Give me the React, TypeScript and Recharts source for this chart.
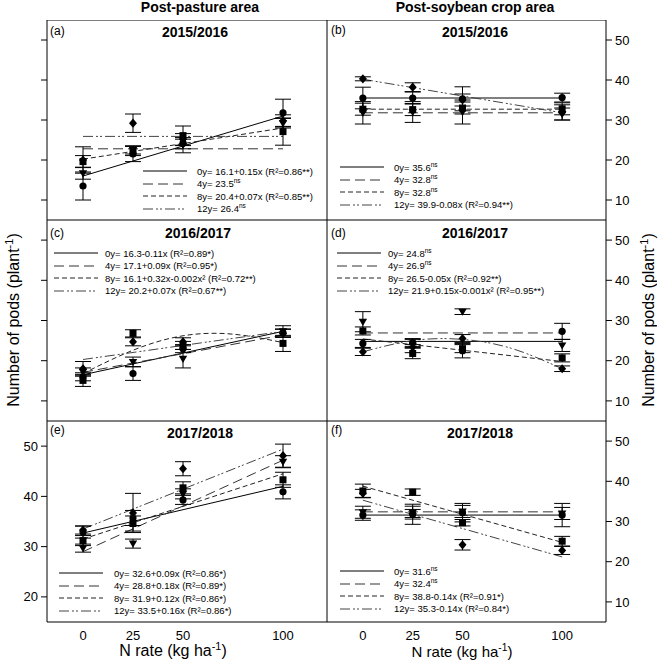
import React from "react";
import { ComposedChart, Line, Scatter, ErrorBar, XAxis, YAxis, ReferenceArea } from "recharts";

const N_RATES = [0, 25, 50, 100];
const LINE_X = [0, 100];
const CURVE_X = [0, 25, 50, 75, 100];
const X_DOMAIN = [-18, 122];
const Y_TICKS = [10, 20, 30, 40, 50];
const Y_TICKS_E = [20, 30, 40, 50];

// rows: 0y, 4y, 8y, 12y ; columns follow N_RATES
// (a) post-pasture 2015/2016
const A_MEAN = [
  [13.5, 21.5, 24.2, 31.8],
  [16.7, 22.5, 24.6, 29.2],
  [19.6, 22.3, 26.1, 27.1],
  [20.0, 29.2, 24.0, 29.8],
];
const A_SE = [
  [3.5, 1.9, 2.4, 3.4],
  [1.5, 1.0, 1.0, 1.2],
  [1.5, 1.2, 2.4, 3.4],
  [3.3, 2.3, 1.2, 1.5],
];
const A_FIT = [[16.0, 31.0], [22.8, 22.8], [20.2, 28.0], [25.9, 25.9]];
const A_LEGEND = [
  ["0y= 16.1+0.15x (R²=0.86**)", ""],
  ["4y= 23.5", "ns"],
  ["8y= 20.4+0.07x (R²=0.85**)", ""],
  ["12y= 26.4", "ns"],
];

// (b) post-soybean 2015/2016
const B_MEAN = [
  [35.5, 35.5, 35.3, 35.6],
  [31.8, 32.0, 32.0, 31.5],
  [32.7, 32.6, 33.0, 32.8],
  [40.3, 38.2, 35.0, 31.9],
];
const B_SE = [
  [2.7, 1.5, 3.0, 1.1],
  [2.8, 2.6, 3.0, 1.5],
  [1.5, 1.5, 1.5, 1.5],
  [0.5, 1.1, 1.5, 1.9],
];
const B_FIT = [[35.5, 35.5], [31.8, 31.8], [32.7, 32.7], [40.2, 31.8]];
const B_LEGEND = [
  ["0y= 35.6", "ns"],
  ["4y= 32.8", "ns"],
  ["8y= 32.8", "ns"],
  ["12y= 39.9-0.08x (R²=0.94**)", ""],
];

// (c) post-pasture 2016/2017
const C_MEAN = [
  [16.0, 16.8, 23.0, 26.9],
  [17.2, 19.7, 20.5, 27.3],
  [15.1, 26.8, 23.8, 24.3],
  [18.0, 24.7, 24.7, 26.8],
];
const C_SE = [
  [1.0, 1.7, 1.0, 1.0],
  [1.0, 1.2, 2.3, 1.4],
  [1.5, 0.9, 1.0, 2.0],
  [1.8, 1.0, 1.0, 1.0],
];
const C_FIT = [[16.5, 27.3], [17.1, 26.4], [16.8, 22.6, 26.2, 26.6, 24.5], [20.3, 27.3]];
const C_LEGEND = [
  ["0y= 16.3-0.11x (R²=0.89*)", ""],
  ["4y= 17.1+0.09x (R²=0.95*)", ""],
  ["8y= 16.1+0.32x-0.002x² (R²=0.72**)", ""],
  ["12y= 20.2+0.07x (R²=0.67**)", ""],
];

// (d) post-soybean 2016/2017
const D_MEAN = [
  [24.3, 24.5, 22.5, 27.3],
  [29.7, 23.0, 32.2, 23.8],
  [27.4, 21.8, 23.0, 20.7],
  [22.2, 24.3, 25.5, 18.0],
];
const D_SE = [
  [1.0, 1.0, 1.8, 2.0],
  [2.5, 1.0, 0.7, 1.5],
  [1.0, 1.3, 1.0, 1.0],
  [0.9, 1.0, 1.0, 0.7],
];
const D_FIT = [[24.8, 24.8], [26.9, 26.9], [25.4, 19.8], [22.2, 25.0, 25.3, 23.0, 18.0]];
const D_LEGEND = [
  ["0y= 24.8", "ns"],
  ["4y= 26.9", "ns"],
  ["8y= 26.5-0.05x (R²=0.92**)", ""],
  ["12y= 21.9+0.15x-0.001x² (R²=0.95**)", ""],
];

// (e) post-pasture 2017/2018
const E_MEAN = [
  [32.9, 35.7, 39.3, 40.9],
  [29.7, 30.6, 40.5, 46.9],
  [31.2, 34.6, 41.7, 43.3],
  [33.3, 36.7, 45.5, 48.1],
];
const E_SE = [
  [1.2, 1.5, 0.9, 1.4],
  [0.8, 0.9, 1.0, 1.2],
  [1.0, 1.5, 1.2, 1.5],
  [0.8, 3.9, 1.4, 2.3],
];
const E_FIT = [[32.7, 42.0], [29.0, 47.2], [31.5, 44.5], [33.5, 49.4]];
const E_LEGEND = [
  ["0y= 32.6+0.09x (R²=0.86*)", ""],
  ["4y= 28.8+0.18x (R²=0.89*)", ""],
  ["8y= 31.9+0.12x (R²=0.86*)", ""],
  ["12y= 33.5+0.16x (R²=0.86*)", ""],
];

// (f) post-soybean 2017/2018
const F_MEAN = [
  [31.6, 31.8, 32.2, 31.6],
  [32.3, 32.2, 32.5, 32.0],
  [37.6, 37.3, 29.7, 25.1],
  [37.0, 32.0, 24.2, 22.8],
];
const F_SE = [
  [1.3, 2.5, 2.3, 2.9],
  [1.5, 1.6, 1.5, 1.5],
  [1.7, 0.8, 0.8, 1.2],
  [1.0, 1.0, 1.3, 1.0],
];
const F_FIT = [[31.6, 31.6], [32.4, 32.4], [38.8, 24.8], [35.3, 21.2]];
const F_LEGEND = [
  ["0y= 31.6", "ns"],
  ["4y= 32.4", "ns"],
  ["8y= 38.8-0.14x (R²=0.91*)", ""],
  ["12y= 35.3-0.14x (R²=0.84*)", ""],
];

const FONT = "'Liberation Sans', Arial, Helvetica, sans-serif";
const AGE_DASH = ["", "10 5", "5 3", "10 3 2 2 2 3"];
const AGE_COLOR = ["#000", "#333", "#222", "#444"];

const marker = (age: number) => (props: any) => {
  const { cx, cy } = props;
  if (cx == null || cy == null) return <g />;
  if (age === 0) return <circle cx={cx} cy={cy} r={3.6} fill="#000" />;
  if (age === 1)
    return <polygon points={`${cx - 4.2},${cy - 3} ${cx + 4.2},${cy - 3} ${cx},${cy + 4.2}`} fill="#000" />;
  if (age === 2) return <rect x={cx - 3.5} y={cy - 3.5} width={7} height={7} fill="#000" />;
  return <polygon points={`${cx},${cy - 4.6} ${cx + 4},${cy} ${cx},${cy + 4.6} ${cx - 4},${cy}`} fill="#000" />;
};

const Panel = ({ mean, se, fit, left, top, plotW, plotH, side, bottom, yDomain, yTicks, yLabels }: any) => {
  const axisW = 40;
  const xAxisH = bottom ? 30 : 0;
  return (
    <div style={{ position: "absolute", left: side === "left" ? left - axisW : left, top }}>
      <ComposedChart width={plotW + axisW} height={plotH + xAxisH} margin={{ top: 0, right: 0, bottom: 0, left: 0 }}>
        <XAxis
          type="number"
          dataKey="x"
          domain={X_DOMAIN}
          ticks={N_RATES}
          allowDataOverflow
          hide={!bottom}
          height={xAxisH}
          axisLine={false}
          tickLine={false}
          tickSize={6}
          tickMargin={3}
          tick={{ fontSize: 13, fill: "#000", fontFamily: FONT }}
        />
        <YAxis
          type="number"
          dataKey="y"
          orientation={side}
          width={axisW}
          domain={yDomain}
          ticks={yTicks}
          allowDataOverflow
          axisLine={false}
          tickLine={{ stroke: "#000" }}
          tickSize={6}
          tickMargin={3}
          tick={yLabels ? { fontSize: 13, fill: "#000", fontFamily: FONT } : () => <g />}
        />
        <ReferenceArea
          x1={X_DOMAIN[0]}
          x2={X_DOMAIN[1]}
          y1={yDomain[0]}
          y2={yDomain[1]}
          fill="none"
          fillOpacity={0}
          stroke="#000"
          strokeWidth={1}
          ifOverflow="visible"
        />
        {fit.map((vals: number[], i: number) => {
          const xs = vals.length > 2 ? CURVE_X : LINE_X;
          return (
            <Line
              key={`fit-${i}`}
              data={vals.map((v, k) => ({ x: xs[k], y: v }))}
              dataKey="y"
              type={vals.length > 2 ? "natural" : "linear"}
              stroke={AGE_COLOR[i]}
              strokeWidth={1}
              strokeDasharray={AGE_DASH[i]}
              dot={false}
              activeDot={false}
              isAnimationActive={false}
            />
          );
        })}
        {mean.map((vals: number[], i: number) => (
          <Scatter
            key={`pts-${i}`}
            data={vals.map((v, k) => ({ x: N_RATES[k], y: v, e: se[i][k] }))}
            dataKey="y"
            shape={marker(i)}
            isAnimationActive={false}
          >
            <ErrorBar dataKey="e" direction="y" width={8} stroke="#000" strokeWidth={1} />
          </Scatter>
        ))}
      </ComposedChart>
    </div>
  );
};

const LegendBox = ({ left, top, labels, gap }: any) => (
  <div style={{ position: "absolute", left, top, fontSize: 9.5, fontFamily: FONT, whiteSpace: "nowrap" }}>
    {labels.map(([txt, sup]: string[], i: number) => (
      <div key={i} style={{ display: "flex", alignItems: "center", height: 12.5 }}>
        <svg width={44} height={4} style={{ marginRight: gap, flex: "none" }}>
          <line x1={0} y1={2} x2={44} y2={2} stroke={AGE_COLOR[i]} strokeWidth={1} strokeDasharray={AGE_DASH[i]} />
        </svg>
        <span>
          {txt}
          {sup && <span style={{ fontSize: 6.5, verticalAlign: "super", lineHeight: 0 }}>{sup}</span>}
        </span>
      </div>
    ))}
  </div>
);

const Txt = ({ x, y, size, bold, children, anchor }: any) => (
  <div
    style={{
      position: "absolute",
      left: x,
      top: y,
      transform: anchor === "start" ? "translate(0,-50%)" : "translate(-50%,-50%)",
      fontSize: size,
      fontWeight: bold ? "bold" : "normal",
      fontFamily: FONT,
      whiteSpace: "nowrap",
      lineHeight: 1,
    }}
  >
    {children}
  </div>
);

const YLabel = ({ x, y }: any) => (
  <div
    style={{
      position: "absolute",
      left: x,
      top: y,
      transform: "translate(-50%,-50%) rotate(-90deg)",
      fontSize: 16,
      fontFamily: FONT,
      whiteSpace: "nowrap",
      lineHeight: 1,
    }}
  >
    Number of pods (plant<sup style={{ fontSize: 11, lineHeight: 0 }}>-1</sup>)
  </div>
);

const XLabel = ({ x, y, size }: any) => (
  <Txt x={x} y={y} size={size}>
    N rate (kg ha<sup style={{ fontSize: size * 0.68, lineHeight: 0 }}>-1</sup>)
  </Txt>
);

export default function App() {
  const rows = [20, 220, 421];
  return (
    <div style={{ position: "absolute", left: 0, top: 0, width: 658, height: 662, background: "#fff", fontFamily: FONT }}>
      <Panel mean={A_MEAN} se={A_SE} fit={A_FIT} left={47} top={rows[0]} plotW={280} plotH={200} side="left" bottom={false} yDomain={[5, 55]} yTicks={Y_TICKS} yLabels={false} />
      <Panel mean={B_MEAN} se={B_SE} fit={B_FIT} left={327} top={rows[0]} plotW={279} plotH={200} side="right" bottom={false} yDomain={[5, 55]} yTicks={Y_TICKS} yLabels={true} />
      <Panel mean={C_MEAN} se={C_SE} fit={C_FIT} left={47} top={rows[1]} plotW={280} plotH={201} side="left" bottom={false} yDomain={[5, 55]} yTicks={Y_TICKS} yLabels={false} />
      <Panel mean={D_MEAN} se={D_SE} fit={D_FIT} left={327} top={rows[1]} plotW={279} plotH={201} side="right" bottom={false} yDomain={[5, 55]} yTicks={Y_TICKS} yLabels={true} />
      <Panel mean={E_MEAN} se={E_SE} fit={E_FIT} left={47} top={rows[2]} plotW={280} plotH={201} side="left" bottom={true} yDomain={[15, 55]} yTicks={Y_TICKS_E} yLabels={true} />
      <Panel mean={F_MEAN} se={F_SE} fit={F_FIT} left={327} top={rows[2]} plotW={279} plotH={201} side="right" bottom={true} yDomain={[5, 55]} yTicks={Y_TICKS} yLabels={true} />

      <Txt x={200} y={7} size={14} bold>Post-pasture area</Txt>
      <Txt x={475} y={7} size={14} bold>Post-soybean crop area</Txt>

      <Txt x={195} y={32} size={14} bold>2015/2016</Txt>
      <Txt x={475} y={32} size={14} bold>2015/2016</Txt>
      <Txt x={198} y={233} size={14} bold>2016/2017</Txt>
      <Txt x={475} y={233} size={14} bold>2016/2017</Txt>
      <Txt x={200} y={433} size={14} bold>2017/2018</Txt>
      <Txt x={480} y={433} size={14} bold>2017/2018</Txt>

      <Txt x={50} y={31} size={12} anchor="start">(a)</Txt>
      <Txt x={331} y={30} size={12} anchor="start">(b)</Txt>
      <Txt x={50} y={233} size={12} anchor="start">(c)</Txt>
      <Txt x={331} y={233} size={12} anchor="start">(d)</Txt>
      <Txt x={50} y={430} size={12} anchor="start">(e)</Txt>
      <Txt x={331} y={430} size={12} anchor="start">(f)</Txt>

      <LegendBox left={143} top={165} labels={A_LEGEND} gap={10} />
      <LegendBox left={340} top={161} labels={B_LEGEND} gap={10} />
      <LegendBox left={54} top={247} labels={C_LEGEND} gap={7} />
      <LegendBox left={337} top={247} labels={D_LEGEND} gap={7} />
      <LegendBox left={59} top={567} labels={E_LEGEND} gap={11} />
      <LegendBox left={340} top={565} labels={F_LEGEND} gap={10} />

      <YLabel x={14} y={320} />
      <YLabel x={649} y={320} />

      <XLabel x={173} y={651} size={16} />
      <XLabel x={462} y={651} size={15} />
    </div>
  );
}
